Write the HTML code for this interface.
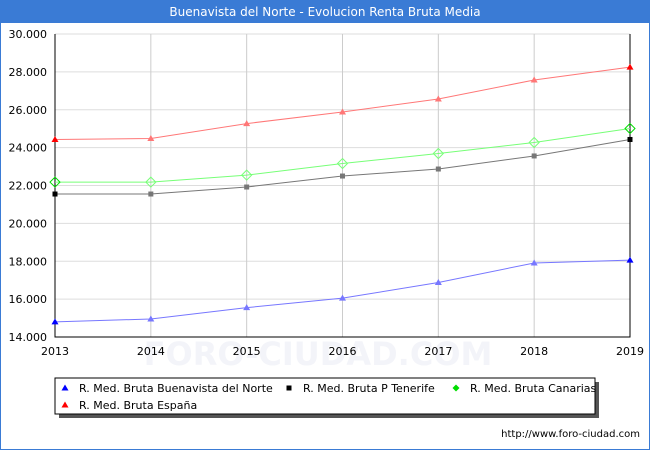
<!DOCTYPE html>
<html><head><meta charset="utf-8"><style>
body{margin:0;width:650px;height:450px;background:#fff;font-family:"DejaVu Sans","Liberation Sans",sans-serif;overflow:hidden}
#wrap{position:absolute;left:0;top:0;width:648px;height:448px;border:1px solid #3a7bd5;}
</style></head><body>
<div id="wrap"></div>
<svg id="c" width="650" height="450" style="position:absolute;left:0;top:0;font-family:'DejaVu Sans','Liberation Sans',sans-serif">
<rect x="0" y="0" width="650" height="23" fill="#3a7bd5"/>
<text x="325" y="16" text-anchor="middle" fill="#fff" font-size="12">Buenavista del Norte - Evolucion Renta Bruta Media</text>
<text x="318" y="365" text-anchor="middle" fill="#f3f4f9" font-size="32" font-weight="bold">FORO-CIUDAD.COM</text>
<g id="grid"></g><g id="series"></g>
<rect x="59" y="382" width="540" height="36" fill="#555"/>
<rect x="55" y="378" width="540" height="36" fill="#fff" stroke="#000"/>
<g id="legend"></g>
<text x="640" y="437" text-anchor="end" font-size="10" fill="#000">http://www.foro-ciudad.com</text>
</svg>
<script>
const years=[2013,2014,2015,2016,2017,2018,2019];
const yTicks=[14000,16000,18000,20000,22000,24000,26000,28000,30000];
const yTickLabels=["14.000","16.000","18.000","20.000","22.000","24.000","26.000","28.000","30.000"];
const buenavista=[14800,14950,15550,16050,16880,17910,18060];
const tenerife=[21550,21550,21920,22500,22870,23560,24430];
const canarias=[22180,22180,22550,23160,23690,24270,25010];
const espana=[24430,24480,25270,25880,26570,27570,28250];
const NS='http://www.w3.org/2000/svg';
const L=55,R=630,T=34,B=337;
const x=i=>L+(R-L)*i/(years.length-1);
const y=v=>B-(v-14000)/(30000-14000)*(B-T);
function mk(t,a,p){const e=document.createElementNS(NS,t);for(const k in a)e.setAttribute(k,a[k]);p.appendChild(e);return e;}
const g=document.getElementById('grid');
yTicks.forEach((v,i)=>{
 const l=mk('line',{x1:L,x2:R,y1:y(v),y2:y(v),stroke:'#ddd'},g);
 
 
 const t=mk('text',{x:L-8,y:y(v)+4,'text-anchor':'end','font-size':11},g);t.textContent=yTickLabels[i];
 
 
});
years.forEach((yr,i)=>{
 const l=mk('line',{x1:x(i),x2:x(i),y1:T,y2:B,stroke:'#ccc'},g);
 
 
 const t=mk('text',{x:x(i),y:B+18,'text-anchor':'middle','font-size':11},g);t.textContent=yr;
 
 
});
const ax=mk('path',{d:`M${L} ${T}V${B}H${R}V${T}`,fill:'none',stroke:'#000'},g);


const S=document.getElementById('series');
function marker(type,cx,cy,col,p){
 if(type==='tri')return mk('path',{d:`M${cx} ${cy-3.5}L${cx+3.5} ${cy+2.5}H${cx-3.5}Z`,fill:col},p);
 if(type==='sq')return mk('rect',{x:cx-2.5,y:cy-2.5,width:5,height:5,fill:col},p);
 return mk('path',{d:`M${cx} ${cy-5}L${cx+5} ${cy}L${cx} ${cy+5}L${cx-5} ${cy}Z`,fill:'none',stroke:col},p);
}
const series=[[buenavista,'#7777ff','#0000ff','tri','series-buenavista'],[tenerife,'#777','#000','sq','series-tenerife'],[canarias,'#77ff77','#00dd00','dia','series-canarias'],[espana,'#ff7777','#ff0000','tri','series-espana']];
series.forEach(([d,c,ec,m,n])=>{
 const grp=mk('g',{},S);
 
 
 const pl=mk('polyline',{points:d.map((v,i)=>x(i)+','+y(v)).join(' '),fill:'none',stroke:c},grp);
 
 
 d.forEach((v,i)=>{const e=marker(m,x(i),y(v),(i==0||i==d.length-1)?ec:c,grp);
  
  });
});
const lg=document.getElementById('legend');
const items=[['tri','#0000ff','R. Med. Bruta Buenavista del Norte',65,388],['sq','#000','R. Med. Bruta P Tenerife',289,388],['dia','#00dd00','R. Med. Bruta Canarias',456,388],['tri','#ff0000','R. Med. Bruta España',65,405]];
items.forEach(([m,c,txt,lx,ly])=>{
 const gi=mk('g',{},lg);
 
 
 if(m==='dia')mk('path',{d:`M${lx} ${ly-3.5}L${lx+3.5} ${ly}L${lx} ${ly+3.5}L${lx-3.5} ${ly}Z`,fill:c},gi);else marker(m,lx,ly,c,gi);
 const t=mk('text',{x:lx+14,y:ly+4,'font-size':11},gi);t.textContent=txt;
});
</script>
</body></html>
